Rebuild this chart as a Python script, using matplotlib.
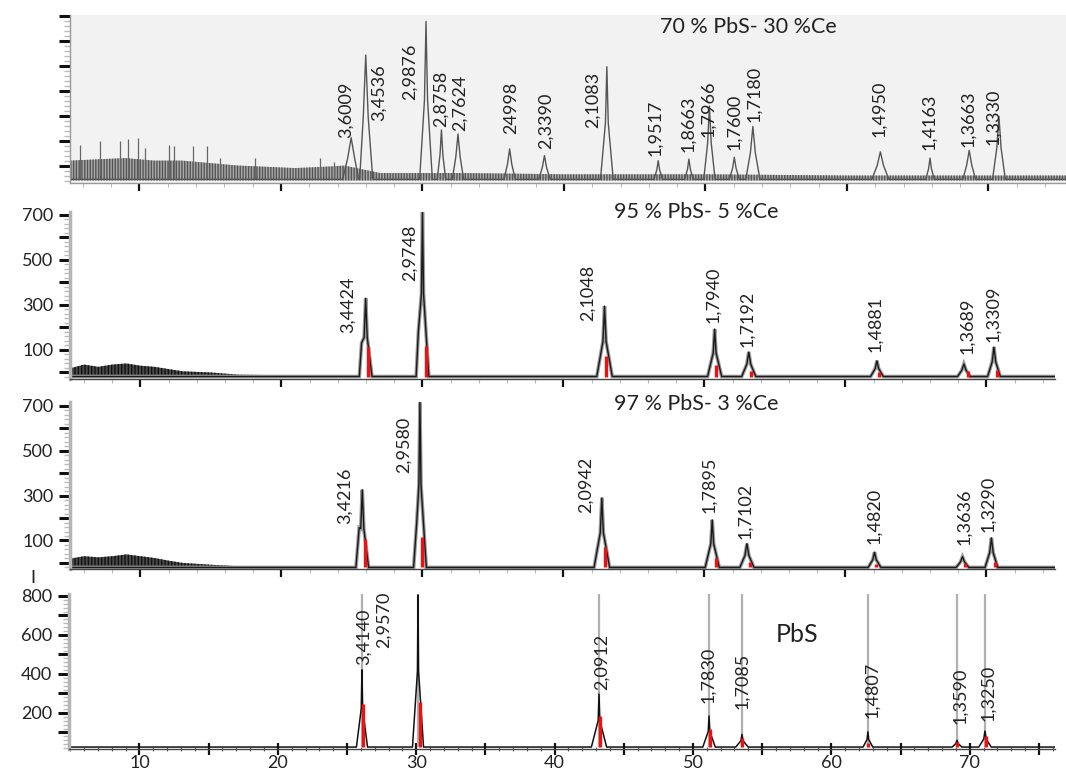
import matplotlib
matplotlib.use("Agg")
import matplotlib.pyplot as plt
from matplotlib.ticker import MultipleLocator, FuncFormatter

plt.rcParams['font.family'] = ['Lato', 'DejaVu Sans']

# ---------------- data (2theta in degrees, intensity in counts) ----------------
# Panel 1 : 70 % PbS - 30 % Ce
p1_title = "70 % PbS- 30 %Ce"
p1_base = 45
p1_pos = [24.96, 25.99, 30.25, 31.34, 32.51, 36.16, 38.62, 43.03, 46.66, 48.83,
          50.28, 52.04, 53.35, 62.36, 65.87, 68.64, 70.74]
p1_height = [212, 544, 679, 243, 227, 167, 140, 497, 120, 126, 339, 133, 257,
             155, 130, 161, 298]
p1_fwhm = [0.5, 0.35, 0.22, 0.2, 0.3, 0.3, 0.3, 0.2, 0.2, 0.2, 0.25, 0.25, 0.35,
           0.45, 0.2, 0.35, 0.3]
p1_foot = [0.6, 0.5, 0.45, 0.3, 0.4, 0.4, 0.4, 0.45, 0.3, 0.3, 0.4, 0.35, 0.5,
           0.6, 0.3, 0.45, 0.45]
p1_labels = ["3,6009", "3,4536", "2,9876", "2,8758", "2,7624", "24998", "2,3390",
             "2,1083", "1,9517", "1,8663", "1,7966", "1,7600", "1,7180", "1,4950",
             "1,4163", "1,3663", "1,3330"]
p1_label_x = [24.59, 26.93, 29.12, 31.31, 32.66, 36.27, 38.74, 42.06, 46.43, 48.76,
              50.21, 52.04, 53.43, 62.24, 65.79, 68.55, 70.31]
p1_label_y = [212, 281, 363, 255, 239, 227, 168, 251, 140, 154, 215, 161, 277,
              215, 161, 175, 183]
p1_noise_x = [5.1, 7, 9, 11, 13, 15, 17, 19, 21, 23, 24.5, 27, 29, 33, 40, 50, 60, 70, 75.5]
p1_noise_top = [120, 125, 130, 120, 120, 110, 100, 95, 90, 95, 100, 70, 70, 70, 65, 65, 60, 60, 60]
p1_spike_x = [5.79, 7.2, 8.61, 9.19, 9.87, 10.36, 12.06, 12.43, 13.77, 14.74, 15.72,
              18.15, 22.77, 23.75]
p1_spike_y = [184, 198, 198, 205, 212, 170, 184, 177, 177, 177, 129, 129, 129, 115]

# Panel 2 : 95 % PbS - 5 % Ce
p2_title = "95 % PbS- 5 %Ce"
p2_base = -18
p2_pos = [25.97, 30.0, 42.91, 50.72, 53.14, 62.23, 68.4, 70.53]
p2_height = [330, 715, 295, 193, 91, 52, 38, 113]
p2_fwhm = [0.22, 0.15, 0.22, 0.2, 0.28, 0.25, 0.3, 0.25]
p2_foot = [0.45, 0.45, 0.55, 0.5, 0.5, 0.45, 0.45, 0.45]
p2_shoulder_x = [25.68, 29.71]
p2_shoulder_y = [131, 184]
p2_ref_x = [26.17, 30.25, 43.05, 50.85, 53.33, 62.38, 68.66, 70.72]
p2_ref_y = [113, 119, 75, 33, 8, 0, 7, 10]
p2_labels = ["3,4424", "2,9748", "2,1048", "1,7940", "1,7192", "1,4881", "1,3689", "1,3309"]
p2_label_x = [24.70, 29.10, 41.74, 50.6, 53.02, 62.11, 68.66, 70.47]
p2_label_y = [177, 407, 227, 219, 113, 90, 82, 136]
p2_noise_x = [5.1, 6, 7, 8, 9, 10, 11, 12, 13, 15, 17, 20]
p2_noise_top = [20, 35, 25, 35, 40, 30, 25, 15, 5, 0, -10, -12]

# Panel 3 : 97 % PbS - 3 % Ce
p3_title = "97 % PbS- 3 %Ce"
p3_base = -20
p3_pos = [25.73, 29.82, 42.72, 50.55, 53.01, 62.06, 68.3, 70.35]
p3_height = [326, 715, 290, 192, 86, 48, 28, 112]
p3_fwhm = [0.22, 0.15, 0.22, 0.2, 0.28, 0.25, 0.3, 0.25]
p3_foot = [0.45, 0.45, 0.55, 0.5, 0.5, 0.45, 0.45, 0.45]
p3_shoulder_x = [25.51, 29.59]
p3_shoulder_y = [157, 179]
p3_ref_x = [25.92, 30.0, 42.91, 50.79, 53.26, 62.2, 68.45, 70.6]
p3_ref_y = [108, 114, 70, 24, 2, -5, -2, 2]
p3_labels = ["3,4216", "2,9580", "2,0942", "1,7895", "1,7102", "1,4820", "1,3636", "1,3290"]
p3_label_x = [24.46, 28.66, 41.55, 50.36, 52.9, 62.0, 68.42, 70.1]
p3_label_y = [172, 401, 222, 222, 108, 86, 78, 139]
p3_noise_x = [5.1, 6, 7, 8, 9, 10, 11, 12, 13, 15, 17, 20]
p3_noise_top = [20, 30, 25, 30, 38, 30, 22, 10, 0, -8, -15, -17]

# Panel 4 : PbS
p4_title = "PbS"
p4_base = 25
p4_pos = [26.08, 30.13, 43.21, 51.16, 53.54, 62.64, 69.08, 71.1]
p4_height = [421, 805, 297, 184, 90, 103, 60, 107]
p4_fwhm = [0.1, 0.08, 0.12, 0.12, 0.15, 0.12, 0.18, 0.18]
p4_foot = [0.4, 0.4, 0.55, 0.45, 0.45, 0.35, 0.35, 0.45]
p4_ref_x = [26.13, 30.27, 43.28, 51.23, 53.54, 62.68, 69.1, 71.15]
p4_ref_y = [248, 256, 184, 116, 72, 46, 50, 80]
p4_labels = ["3,4140", "2,9570", "2,0912", "1,7830", "1,7085", "1,4807", "1,3590", "1,3250"]
p4_label_x = [26.18, 27.67, 43.41, 51.12, 53.54, 62.93, 69.29, 71.32]
p4_label_y = [448, 533, 318, 252, 221, 176, 141, 158]
x_tick_labels = ["10", "20", "30", "40", "50", "60", "70"]


def profile(base, pos, height, fwhm, foot, xmin, xmax, sh_x=(), sh_y=()):
    pts = [(xmin, base), (xmax, base)]
    for p, h, w, f in zip(pos, height, fwhm, foot):
        mid = (base + h) / 2.0
        pts += [(p - f, base), (p - w / 2, mid), (p, h), (p + w / 2, mid), (p + f, base)]
    pts += list(zip(sh_x, sh_y))
    pts.sort()
    return [q[0] for q in pts], [q[1] for q in pts]


W, H = 1066, 776
fig = plt.figure(figsize=(W / 100, H / 100), dpi=100)


def make_ax(left, right, top, bottom):
    return fig.add_axes([left / W, 1 - bottom / H, (right - left) / W, (bottom - top) / H])


ax1 = make_ax(70, 1066, 15, 183)
ax2 = make_ax(70, 1055, 212, 379)
ax3 = make_ax(70, 1055, 402, 569)
ax4 = make_ax(69, 1055, 594, 749)

ax1.set_xlim(5.09, 75.48); ax1.set_ylim(30, 705)
ax2.set_xlim(5.0, 74.86); ax2.set_ylim(-29, 713)
ax3.set_xlim(5.0, 74.86); ax3.set_ylim(-27, 717)
ax4.set_xlim(4.91, 76.16); ax4.set_ylim(15, 810)

ax1.set_facecolor('#f2f2f2')

for ax in (ax1, ax2, ax3, ax4):
    ax.spines['top'].set_visible(False)
    ax.spines['right'].set_visible(False)
    ax.tick_params(axis='y', which='major', direction='out', length=8, width=2.2,
                   color='#111111', labelsize=13, pad=4, labelcolor='#222222')
    ax.tick_params(axis='y', which='minor', direction='out', length=4, width=1,
                   color='#bbbbbb')
    ax.yaxis.set_major_locator(MultipleLocator(100))
    ax.yaxis.set_minor_locator(MultipleLocator(20))

# top three panels: x ticks every 10 deg, no labels
for ax in (ax1, ax2, ax3):
    ax.xaxis.set_major_locator(MultipleLocator(10))
    ax.xaxis.set_minor_locator(MultipleLocator(2))
    ax.tick_params(axis='x', which='major', direction='out', length=6, width=1.6,
                   color='#111111', labelbottom=False)
    ax.tick_params(axis='x', which='minor', direction='out', length=3, width=0.8,
                   color='#bbbbbb')

ax1.spines['left'].set_color('#999999'); ax1.spines['left'].set_linewidth(1.0)
ax1.spines['bottom'].set_color('#999999'); ax1.spines['bottom'].set_linewidth(1.0)
ax1.yaxis.set_major_formatter(FuncFormatter(lambda v, p: ''))
for ax in (ax2, ax3, ax4):
    ax.spines['left'].set_color('#b5b5b5'); ax.spines['left'].set_linewidth(2.5)
    ax.spines['bottom'].set_color('#444444'); ax.spines['bottom'].set_linewidth(1.0)

odd_fmt = FuncFormatter(lambda v, p: f"{int(round(v))}" if int(round(v)) % 200 == 100 else '')
even_fmt = FuncFormatter(lambda v, p: f"{int(round(v))}" if int(round(v)) % 200 == 0 and v > 0 else '')
ax2.yaxis.set_major_formatter(odd_fmt)
ax3.yaxis.set_major_formatter(odd_fmt)
ax4.yaxis.set_major_formatter(even_fmt)

ax4.xaxis.set_minor_locator(MultipleLocator(1))
ax4.set_xticks([10, 15, 20, 25, 30, 35, 40, 45, 50, 55, 60, 65, 70, 75])
ax4.set_xticklabels([x_tick_labels[i // 2] if i % 2 == 0 else '' for i in range(14)])
ax4.tick_params(axis='x', which='major', direction='inout', length=8, width=1.6,
                color='#111111', labelsize=13, pad=0, labelcolor='#222222')
ax4.tick_params(axis='x', which='minor', direction='inout', length=3, width=0.8,
                color='#666666')
ax4.set_ylabel('I', rotation=0, fontsize=13, color='#222222')
ax4.yaxis.set_label_coords(-0.037, 1.05)

# ---- panel 1 ----
ax1.fill_between(p1_noise_x, p1_base - 5, p1_noise_top, facecolor='#a9a9a9',
                 edgecolor='#555555', hatch='||||||', linewidth=0)
ax1.vlines(p1_spike_x, p1_base, p1_spike_y, color='#666666', lw=0.9)
x, y = profile(p1_base, p1_pos, p1_height, p1_fwhm, p1_foot, 5.09, 75.48)
ax1.plot(x, y, color='#555555', lw=1.0)
for t, lx, ly in zip(p1_labels, p1_label_x, p1_label_y):
    ax1.text(lx, ly, t, rotation=90, ha='center', va='bottom', fontsize=13, color='#222222')
ax1.text(0.681, 0.929, p1_title, transform=ax1.transAxes, ha='center', va='center',
         fontsize=15.5, color='#222222')

# ---- panels 2 and 3 ----
for ax, base, pos, hgt, fw, ft, shx, shy, rx, ry, labs, lxs, lys, nx, nt, title, ty in (
        (ax2, p2_base, p2_pos, p2_height, p2_fwhm, p2_foot, p2_shoulder_x, p2_shoulder_y,
         p2_ref_x, p2_ref_y, p2_labels, p2_label_x, p2_label_y, p2_noise_x, p2_noise_top,
         p2_title, 1.0),
        (ax3, p3_base, p3_pos, p3_height, p3_fwhm, p3_foot, p3_shoulder_x, p3_shoulder_y,
         p3_ref_x, p3_ref_y, p3_labels, p3_label_x, p3_label_y, p3_noise_x, p3_noise_top,
         p3_title, 0.988)):
    ax.fill_between(nx, base - 4, nt, facecolor='#4a4a4a', edgecolor='#111111',
                    hatch='|||||', linewidth=0)
    x, y = profile(base, pos, hgt, fw, ft, 5.0, 74.86, shx, shy)
    ax.plot(x, y, color='#9a9a9a', lw=2.6, solid_joinstyle='miter')
    ax.plot(x, y, color='#1a1a1a', lw=1.0)
    ax.vlines(rx, base, ry, color='#ee1111', lw=2.4, zorder=3)
    for t, lx, ly in zip(labs, lxs, lys):
        ax.text(lx, ly, t, rotation=90, ha='center', va='bottom', fontsize=13, color='#222222')
    ax.text(0.636, ty, title, transform=ax.transAxes, ha='center', va='center',
            fontsize=15.5, color='#222222')

# ---- panel 4 ----
ax4.vlines(p4_pos, p4_base, 810, color='#b0b0b0', lw=1.6)
x, y = profile(p4_base, p4_pos, p4_height, p4_fwhm, p4_foot, 4.91, 76.16)
ax4.plot(x, y, color='#111111', lw=1.1)
ax4.vlines(p4_ref_x, p4_base, p4_ref_y, color='#ee1111', lw=2.4, zorder=3)
for t, lx, ly in zip(p4_labels, p4_label_x, p4_label_y):
    ax4.text(lx, ly, t, rotation=90, ha='center', va='bottom', fontsize=13, color='#222222')
ax4.text(0.738, 0.74, p4_title, transform=ax4.transAxes, ha='center', va='center',
         fontsize=18, color='#222222')

fig.savefig('out.png', dpi=100)
